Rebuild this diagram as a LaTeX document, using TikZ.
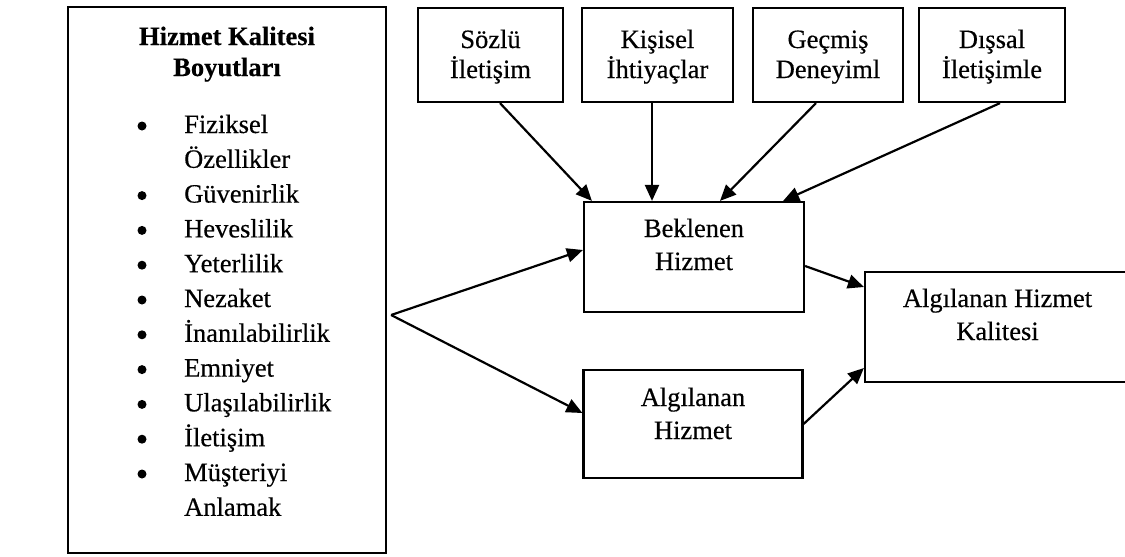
\documentclass[tikz,border=0pt]{standalone}
\usepackage{fontspec}
\setmainfont{Liberation Serif}[FakeBold=0.4]
\usetikzlibrary{arrows.meta}

\begin{document}
\begin{tikzpicture}[x=1pt, y=-1pt,
        kutu/.style={draw=black, line width=2.2pt, inner sep=0pt},
        yazi/.style={font={\fontsize{26.5}{34}\selectfont}, anchor=base, inner sep=0pt},
        nokta/.style={circle, fill=black, inner sep=0pt, minimum size=9pt},
        ok/.style={line width=2.2pt, -{Triangle[length=16pt,width=14pt]}}]
        \useasboundingbox (0,0) rectangle (1125,557);
        % kutular
        \node[kutu, minimum width=318pt, minimum height=546pt] (boyut) at (227,280) {};
        \node[kutu, minimum width=145pt, minimum height=94pt] (sozlu) at (490.5,55) {};
        \node[kutu, minimum width=151pt, minimum height=94pt] (kisisel) at (657.5,55) {};
        \node[kutu, minimum width=150pt, minimum height=94pt] (gecmis) at (828,55) {};
        \node[kutu, minimum width=146pt, minimum height=94pt] (dissal) at (992,55) {};
        \node[kutu, minimum width=220pt, minimum height=110pt] (bek) at (694,257) {};
        \node[kutu, minimum width=219pt, minimum height=108pt] (alg) at (693,424) {};
        \node[kutu, minimum width=265pt, minimum height=110pt] (ahk) at (997.5,327) {};
        % yazilar
        \node[yazi, font={\fontsize{26.5}{34}\selectfont\bfseries}] (baslik1) at (227,45) {Hizmet Kalitesi};
        \node[yazi, font={\fontsize{26.5}{34}\selectfont\bfseries}] (baslik2) at (227,76) {Boyutları};
        \foreach \k/\madde in {0/Fiziksel, 1/Özellikler, 2/Güvenirlik, 3/Heveslilik, 4/Yeterlilik,
            5/Nezaket, 6/İnanılabilirlik, 7/Emniyet, 8/Ulaşılabilirlik, 9/İletişim, 10/Müşteriyi, 11/Anlamak}
            \node[yazi, anchor=base west] (m\k) at (184,133+34.8*\k) {\madde};
        \foreach \k in {0,2,3,4,5,6,7,8,9,10}
            \node[nokta] (b\k) at (142,126+34.8*\k) {};
        \node[yazi] (sozlu1) at (490.5,48) {Sözlü};
        \node[yazi] (sozlu2) at (490.5,78) {İletişim};
        \node[yazi] (kisisel1) at (657.5,48) {Kişisel};
        \node[yazi] (kisisel2) at (657.5,78) {İhtiyaçlar};
        \node[yazi] (gecmis1) at (828,48) {Geçmiş};
        \node[yazi] (gecmis2) at (828,78) {Deneyiml};
        \node[yazi] (dissal1) at (992,48) {Dışsal};
        \node[yazi] (dissal2) at (992,78) {İletişimle};
        \node[yazi] (bek1) at (694,237) {Beklenen};
        \node[yazi] (bek2) at (694,270) {Hizmet};
        \node[yazi] (alg1) at (693,406) {Algılanan};
        \node[yazi] (alg2) at (693,439) {Hizmet};
        \node[yazi] (ahk1) at (997.5,307) {Algılanan Hizmet};
        \node[yazi] (ahk2) at (997.5,340) {Kalitesi};
        % oklar
        \draw[ok] ([xshift=9.5pt]sozlu.south) -- ([xshift=9pt]bek.north west);
        \draw[ok] ([xshift=-5.5pt]kisisel.south) -- ([xshift=-5.5pt]kisisel.south |- bek.north);
        \draw[ok] ([xshift=-12pt]gecmis.south) -- ([xshift=26pt]bek.north);
        \draw[ok] ([xshift=8pt]dissal.south) -- ([xshift=-22pt]bek.north east);
        \coordinate (ayrim) at ([xshift=4pt,yshift=-35pt]boyut.east);
        \draw[ok] (ayrim) -- ([yshift=7pt]bek.west);
        \draw[ok] (ayrim) -- ([yshift=11pt]alg.west);
        \draw[ok] ([yshift=-9pt]bek.east) -- ([yshift=40pt]ahk.west);
        \draw[ok] (alg.east) -- ([yshift=-41pt]ahk.west);
    \end{tikzpicture}
\end{document}
